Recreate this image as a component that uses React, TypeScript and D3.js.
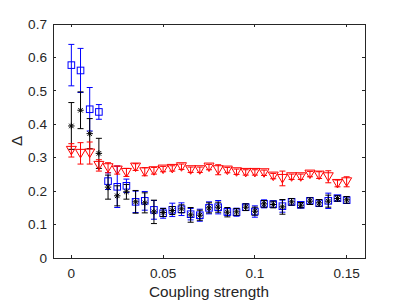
import React from "react";
import * as d3 from "d3";

// coupling strength values (x)
const coupling = [
  0, 0.005, 0.01, 0.015, 0.02, 0.025, 0.03, 0.035, 0.04, 0.045, 0.05, 0.055,
  0.06, 0.065, 0.07, 0.075, 0.08, 0.085, 0.09, 0.095, 0.1, 0.105, 0.11, 0.115,
  0.12, 0.125, 0.13, 0.135, 0.14, 0.145, 0.15,
];

// blue squares
const blueMean = [
  0.577, 0.561, 0.445, 0.437, 0.23, 0.213, 0.216, 0.168, 0.171, 0.144, 0.134,
  0.144, 0.146, 0.131, 0.128, 0.15, 0.152, 0.138, 0.137, 0.152, 0.139, 0.162,
  0.161, 0.155, 0.168, 0.159, 0.171, 0.164, 0.171, 0.179, 0.173,
];
const blueErr = [
  0.062, 0.066, 0.065, 0.022, 0.025, 0.062, 0.02, 0.032, 0.028, 0.028, 0.015,
  0.02, 0.019, 0.017, 0.018, 0.018, 0.02, 0.011, 0.012, 0.01, 0.017, 0.012,
  0.01, 0.018, 0.01, 0.008, 0.01, 0.01, 0.023, 0.008, 0.01,
];

// black asterisks
const blackMean = [
  0.395, 0.442, 0.372, 0.313, 0.212, 0.186, 0.198, 0.168, 0.165, 0.138, 0.136,
  0.142, 0.147, 0.129, 0.128, 0.15, 0.152, 0.137, 0.138, 0.152, 0.14, 0.162,
  0.16, 0.153, 0.168, 0.158, 0.17, 0.165, 0.17, 0.178, 0.174,
];
const blackErr = [
  0.07, 0.055, 0.045, 0.045, 0.036, 0.03, 0.022, 0.034, 0.03, 0.035, 0.012,
  0.012, 0.012, 0.022, 0.015, 0.015, 0.015, 0.014, 0.01, 0.01, 0.012, 0.01,
  0.01, 0.022, 0.01, 0.008, 0.01, 0.01, 0.018, 0.008, 0.01,
];

// red triangles
const redMean = [
  0.322, 0.313, 0.314, 0.277, 0.27, 0.263, 0.256, 0.272, 0.258, 0.261, 0.266,
  0.268, 0.273, 0.264, 0.264, 0.272, 0.264, 0.263, 0.258, 0.256, 0.256, 0.255,
  0.245, 0.238, 0.243, 0.243, 0.251, 0.248, 0.243, 0.223, 0.228,
];
const redErr = [
  0.02, 0.032, 0.033, 0.017, 0.015, 0.012, 0.012, 0.01, 0.012, 0.01, 0.008,
  0.008, 0.008, 0.008, 0.008, 0.008, 0.015, 0.008, 0.008, 0.008, 0.008, 0.008,
  0.008, 0.022, 0.008, 0.008, 0.008, 0.01, 0.018, 0.01, 0.015,
];

const xTicks = [0, 0.05, 0.1, 0.15];
const xTickLabels = ["0", "0.05", "0.1", "0.15"];
const yTicks = [0, 0.1, 0.2, 0.3, 0.4, 0.5, 0.6, 0.7];
const yTickLabels = ["0", "0.1", "0.2", "0.3", "0.4", "0.5", "0.6", "0.7"];

const W = 404;
const H = 304;
const left = 53;
const right = 365;
const top = 24;
const bottom = 258;
const axisColor = "#262626";
const font = "'Liberation Sans', Arial, Helvetica, sans-serif";

const x = d3.scaleLinear().domain([-0.01, 0.16]).range([left, right]);
const y = d3.scaleLinear().domain([0, 0.7]).range([bottom, top]);

const cap = 3;

const ErrorBars = ({ mean, err, color }) => (
  <g stroke={color} strokeWidth={1} fill="none">
    {coupling.map((c, i) => {
      const cx = x(c);
      const y1 = y(mean[i] + err[i]);
      const y2 = y(mean[i] - err[i]);
      return (
        <path
          key={i}
          d={`M${cx},${y1}V${y2}M${cx - cap},${y1}H${cx + cap}M${cx - cap},${y2}H${cx + cap}`}
        />
      );
    })}
  </g>
);

const App = () => {
  const s = 3.3; // half size of square
  const a = 3.2; // asterisk arm
  const d = a * Math.SQRT1_2;
  return (
    <svg
      width={W}
      height={H}
      style={{ position: "absolute", left: 0, top: 0, background: "#fff" }}
    >
      <rect x={0} y={0} width={W} height={H} fill="#fff" />

      {/* blue squares */}
      <ErrorBars mean={blueMean} err={blueErr} color="#0000ff" />
      <g stroke="#0000ff" strokeWidth={1} fill="none">
        {coupling.map((c, i) => (
          <rect
            key={i}
            x={x(c) - s}
            y={y(blueMean[i]) - s}
            width={2 * s}
            height={2 * s}
          />
        ))}
      </g>

      {/* black asterisks */}
      <ErrorBars mean={blackMean} err={blackErr} color="#000" />
      <g stroke="#000" strokeWidth={1} fill="none">
        {coupling.map((c, i) => {
          const cx = x(c);
          const cy = y(blackMean[i]);
          return (
            <path
              key={i}
              d={`M${cx - a},${cy}H${cx + a}M${cx},${cy - a}V${cy + a}M${cx - d},${cy - d}L${cx + d},${cy + d}M${cx - d},${cy + d}L${cx + d},${cy - d}`}
            />
          );
        })}
      </g>

      {/* red triangles (down) */}
      <ErrorBars mean={redMean} err={redErr} color="#ff0000" />
      <g stroke="#ff0000" strokeWidth={1} fill="none">
        {coupling.map((c, i) => {
          const cx = x(c);
          const cy = y(redMean[i]);
          return (
            <path
              key={i}
              d={`M${cx - 5},${cy - 4}H${cx + 5}L${cx},${cy + 4.5}Z`}
            />
          );
        })}
      </g>

      {/* axes box */}
      <rect
        x={left}
        y={top}
        width={right - left}
        height={bottom - top}
        fill="none"
        stroke={axisColor}
        strokeWidth={1}
        shapeRendering="crispEdges"
      />
      <g stroke={axisColor} strokeWidth={1} shapeRendering="crispEdges">
        {xTicks.map((t) => (
          <g key={t}>
            <line x1={x(t)} x2={x(t)} y1={bottom} y2={bottom - 3} />
            <line x1={x(t)} x2={x(t)} y1={top} y2={top + 3} />
          </g>
        ))}
        {yTicks.map((t) => (
          <g key={t}>
            <line x1={left} x2={left + 3} y1={y(t)} y2={y(t)} />
            <line x1={right} x2={right - 3} y1={y(t)} y2={y(t)} />
          </g>
        ))}
      </g>

      <g fontFamily={font} fontSize={13.6} fill={axisColor}>
        {xTicks.map((t, i) => (
          <text key={t} x={x(t)} y={bottom + 20} textAnchor="middle">
            {xTickLabels[i]}
          </text>
        ))}
        {yTicks.map((t, i) => (
          <text key={t} x={left - 6} y={y(t)} dy="0.35em" textAnchor="end">
            {yTickLabels[i]}
          </text>
        ))}
      </g>

      <text
        x={(left + right) / 2}
        y={297}
        textAnchor="middle"
        fontFamily={font}
        fontSize={15.3}
        fill={axisColor}
      >
        Coupling strength
      </text>
      <text
        transform={`translate(22,141) rotate(-90)`}
        textAnchor="middle"
        fontFamily={font}
        fontSize={15.3}
        fill={axisColor}
      >
        Δ
      </text>
    </svg>
  );
};

export default App;
